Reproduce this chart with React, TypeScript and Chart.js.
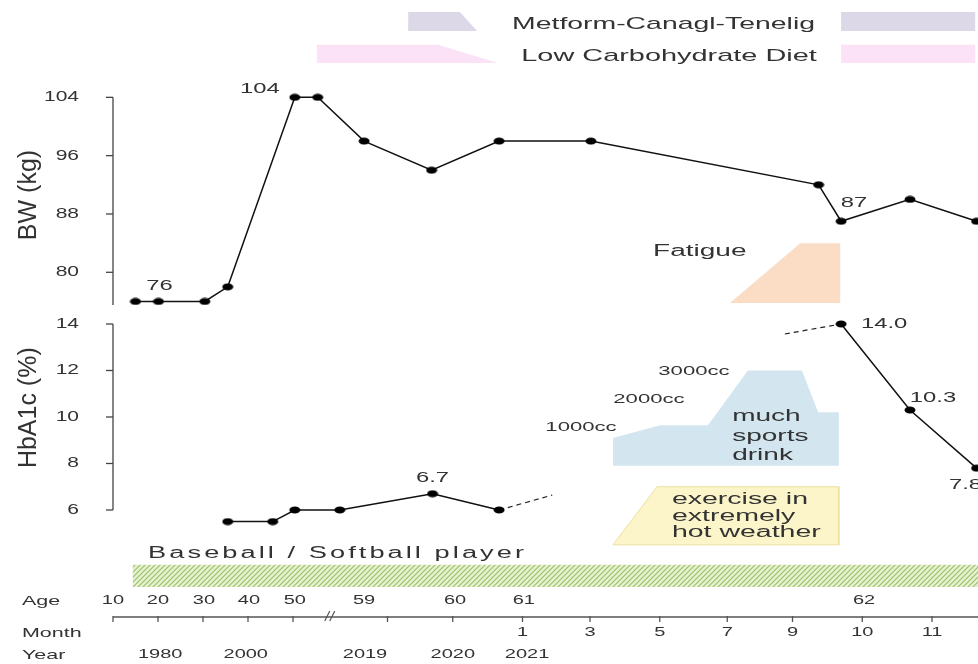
import React, { useEffect, useRef } from 'react';
import { Chart, registerables } from 'chart.js';

Chart.register(...registerables);

// Timeline position (schematic axis): 0 = age 10, +10 per age decade in the first segment
const bwX = [5.0, 10.1, 20.4, 25.5, 40.4, 45.5, 55.8, 70.8, 85.8, 106.2, 156.8, 161.8, 177.1, 191.9];
const bwY = [76, 76, 76, 78, 104, 104, 98, 94, 98, 98, 92, 87, 90, 87];

const a1cX1 = [25.5, 35.5, 40.4, 50.4, 71.0, 85.8];
const a1cY1 = [5.5, 5.5, 6.0, 6.0, 6.7, 6.0];
const a1cX2 = [161.8, 177.1, 191.9];
const a1cY2 = [14.0, 10.3, 7.8];
const dashAX = [85.8, 97.6];
const dashAY = [6.0, 6.64];
const dashBX = [149.3, 161.8];
const dashBY = [13.57, 14.0];

// period / event bands
const metformX = [65.6, 77.1, 80.9, 65.6];
const metformY = [115.7, 115.7, 113.1, 113.1];
const metform2X = [161.8, 191.6, 191.6, 161.8];
const metform2Y = [115.7, 115.7, 113.1, 113.1];
const dietX = [45.3, 72.2, 85.6, 45.3];
const dietY = [111.2, 111.2, 108.7, 108.7];
const diet2X = [161.8, 191.6, 191.6, 161.8];
const diet2Y = [111.2, 111.2, 108.7, 108.7];
const fatigueX = [137.1, 152.7, 161.6, 161.6];
const fatigueY = [75.8, 84.0, 84.0, 75.8];
const drinkX = [111.1, 111.1, 121.6, 132.2, 141.1, 153.1, 156.7, 161.3, 161.3];
const drinkY = [7.9, 9.1, 9.65, 9.65, 12.0, 12.0, 10.2, 10.2, 7.9];
const heatX = [111.1, 120.9, 161.3, 161.3, 111.1];
const heatY = [4.5, 7.0, 7.0, 4.5, 4.5];
const ballX = [4.4, 192.3, 192.3, 4.4];
const ballY = [3.64, 3.64, 2.69, 2.69];

// axes
const bwTicks = [80, 88, 96, 104];
const bwAxisMin = 75.5;
const a1cTicks = [6, 8, 10, 12, 14];
const axisTicks = [0, 10, 20, 30, 40, 61, 75.5, 91, 106, 121.5, 136.5, 151, 166.5, 182];
const axisBreak = 48.4;
const ageLabels = ['10', '20', '30', '40', '50', '59', '60', '61', '62'];
const agePos = [0, 10, 20.2, 30.2, 40.4, 55.8, 76, 91.3, 166.9];
const monthLabels = ['1', '3', '5', '7', '9', '10', '11'];
const monthPos = [91, 106, 121.5, 136.5, 151, 166.5, 182];
const yearLabels = ['1980', '2000', '2019', '2020', '2021'];
const yearPos = [10.5, 29.5, 56, 75.5, 92];

const FONT = '"Liberation Sans", Arial, Helvetica, sans-serif';
const TXT = '#333333';

const pts = (xs: number[], ys: number[]) => xs.map((x, i) => ({ x, y: ys[i] }));

function makeDot() {
  const c = document.createElement('canvas');
  c.width = 12;
  c.height = 8;
  const g = c.getContext('2d')!;
  g.fillStyle = '#000';
  g.beginPath();
  g.ellipse(6, 4, 5.5, 3.5, 0, 0, Math.PI * 2);
  g.fill();
  return c;
}

function makeHatch(ctx: CanvasRenderingContext2D) {
  const c = document.createElement('canvas');
  c.width = 5;
  c.height = 5;
  const g = c.getContext('2d')!;
  g.fillStyle = '#e6f2cf';
  g.fillRect(0, 0, 5, 5);
  g.strokeStyle = '#98c066';
  g.lineWidth = 1.1;
  g.beginPath();
  g.moveTo(-1, 6); g.lineTo(6, -1);
  g.moveTo(-1, 1); g.lineTo(1, -1);
  g.moveTo(4, 6); g.lineTo(6, 4);
  g.stroke();
  return ctx.createPattern(c, 'repeat')!;
}

function txt(ctx: CanvasRenderingContext2D, s: string, x: number, y: number, size: number, align: CanvasTextAlign, sx: number, spacing = 0) {
  ctx.save();
  ctx.translate(x, y);
  ctx.scale(sx, 1);
  ctx.font = `${size}px ${FONT}`;
  ctx.textAlign = align;
  ctx.textBaseline = 'middle';
  ctx.fillStyle = TXT;
  if (spacing) (ctx as any).letterSpacing = spacing + 'px';
  ctx.fillText(s, 0, 0);
  ctx.restore();
}

function seg(ctx: CanvasRenderingContext2D, x1: number, y1: number, x2: number, y2: number) {
  ctx.beginPath();
  ctx.moveTo(x1, y1);
  ctx.lineTo(x2, y2);
  ctx.stroke();
}

const annot = {
  id: 'annot',
  afterDatasetsDraw(chart: any) {
    const ctx: CanvasRenderingContext2D = chart.ctx;
    const xs = chart.scales.x, yb = chart.scales.yBW, ya = chart.scales.yA1c;
    const X = (v: number) => xs.getPixelForValue(v);
    const B = (v: number) => yb.getPixelForValue(v);
    const A = (v: number) => ya.getPixelForValue(v);
    const ax = X(0);
    ctx.save();
    ctx.strokeStyle = '#444';
    ctx.lineWidth = 1.3;
    // BW axis
    seg(ctx, ax, B(bwTicks[bwTicks.length - 1]), ax, B(bwAxisMin));
    bwTicks.forEach((t) => {
      const y = B(t);
      seg(ctx, ax - 7, y, ax, y);
      txt(ctx, String(t), ax - 34, y, 14, 'right', 1.5);
    });
    // HbA1c axis
    seg(ctx, ax, A(a1cTicks[a1cTicks.length - 1]), ax, A(a1cTicks[0]));
    a1cTicks.forEach((t) => {
      const y = A(t);
      seg(ctx, ax - 7, y, ax, y);
      txt(ctx, String(t), ax - 34, y, 14, 'right', 1.5);
    });
    // axis titles
    ctx.save();
    ctx.translate(29, B(90.6));
    ctx.rotate(-Math.PI / 2);
    ctx.font = `25px ${FONT}`;
    ctx.fillStyle = TXT;
    ctx.textAlign = 'center';
    ctx.textBaseline = 'middle';
    ctx.fillText('BW (kg)', 0, 0);
    ctx.restore();
    ctx.save();
    ctx.translate(29, A(10.4));
    ctx.rotate(-Math.PI / 2);
    ctx.font = `25px ${FONT}`;
    ctx.fillStyle = TXT;
    ctx.textAlign = 'center';
    ctx.textBaseline = 'middle';
    ctx.fillText('HbA1c (%)', 0, 0);
    ctx.restore();

    // value labels
    txt(ctx, '76', X(bwX[1]) + 1, B(bwY[1]) - 15, 14, 'center', 1.7);
    txt(ctx, '104', X(bwX[4]) - 35, B(bwY[4]) - 8, 14, 'center', 1.7);
    txt(ctx, '87', X(bwX[11]) + 13, B(bwY[11]) - 18, 14, 'center', 1.7);
    txt(ctx, '6.7', X(a1cX1[4]), A(a1cY1[4]) - 16, 14, 'center', 1.7);
    txt(ctx, '14.0', X(a1cX2[0]) + 43, A(a1cY2[0]), 14, 'center', 1.7);
    txt(ctx, '10.3', X(a1cX2[1]) + 23, A(a1cY2[1]) - 12, 14, 'center', 1.7);
    txt(ctx, '7.8', X(a1cX2[2]) - 11, A(a1cY2[2]) + 17, 14, 'center', 1.7);

    // legend texts
    txt(ctx, 'Metform-Canagl-Tenelig', X(156), B(114.06), 17, 'right', 1.67);
    txt(ctx, 'Low Carbohydrate Diet', X(156.4), B(109.67), 17, 'right', 1.7);

    // annotations
    txt(ctx, 'Fatigue', X(130.4), B(82.8), 16, 'center', 1.75);
    txt(ctx, '1000cc', X(104), A(9.57), 13, 'center', 1.7);
    txt(ctx, '2000cc', X(119.1), A(10.77), 13, 'center', 1.7);
    txt(ctx, '3000cc', X(129.1), A(11.94), 13, 'center', 1.7);
    ['much', 'sports', 'drink'].forEach((s, i) => txt(ctx, s, X(137.6), A([10.0, 9.14, 8.32][i]), 16, 'left', 1.75));
    ['exercise in', 'extremely', 'hot weather'].forEach((s, i) => txt(ctx, s, X(124.2), A([6.43, 5.7, 5.01][i]), 16, 'left', 1.78));
    txt(ctx, 'Baseball / Softball player', X(7.8), A(4.11), 16, 'left', 1.7, 1.8);

    // bottom timeline axis
    const ly = 617;
    ctx.strokeStyle = '#555';
    ctx.lineWidth = 1.3;
    seg(ctx, X(0), ly, xs.right, ly);
    axisTicks.forEach((t) => seg(ctx, X(t), ly - 1, X(t), ly + 5));
    const bx = X(axisBreak);
    ctx.lineWidth = 1.2;
    seg(ctx, bx - 6, ly + 4, bx - 1, ly - 6);
    seg(ctx, bx - 1, ly + 4, bx + 4, ly - 6);
    txt(ctx, 'Age', 22, 601, 13, 'left', 1.65);
    txt(ctx, 'Month', 22, 633, 13, 'left', 1.65);
    txt(ctx, 'Year', 22, 655, 13, 'left', 1.65);
    ageLabels.forEach((s, i) => txt(ctx, s, X(agePos[i]), 601, 12.5, 'center', 1.6));
    monthLabels.forEach((s, i) => txt(ctx, s, X(monthPos[i]), 633, 12.5, 'center', 1.6));
    yearLabels.forEach((s, i) => txt(ctx, s, X(yearPos[i]), 655, 12.5, 'center', 1.6));
    ctx.restore();
  },
};

export default function App() {
  const ref = useRef<HTMLCanvasElement>(null);
  useEffect(() => {
    const canvas = ref.current!;
    const dot = makeDot();
    const hatch = makeHatch(canvas.getContext('2d')!);
    const shape = (data: any[], color: any, yAxisID: string, border = 0, borderColor = 'transparent') => ({
      data,
      yAxisID,
      fill: 'shape',
      backgroundColor: color,
      borderColor,
      borderWidth: border,
      pointRadius: 0,
      tension: 0,
      order: 2,
      clip: false,
    });
    const lineDs = (data: any[], yAxisID: string, dashed = false) => ({
      data,
      yAxisID,
      fill: false,
      borderColor: dashed ? '#222' : '#111',
      borderWidth: dashed ? 1.2 : 1.5,
      borderDash: dashed ? [5, 4] : [],
      pointRadius: dashed ? 0 : 5,
      pointStyle: dashed ? 'circle' : dot,
      tension: 0,
      order: 0,
      clip: false,
    });
    const chart = new Chart(canvas, {
      type: 'line',
      data: {
        datasets: [
          lineDs(pts(bwX, bwY), 'yBW'),
          lineDs(pts(a1cX1, a1cY1), 'yA1c'),
          lineDs(pts(a1cX2, a1cY2), 'yA1c'),
          lineDs(pts(dashAX, dashAY), 'yA1c', true),
          lineDs(pts(dashBX, dashBY), 'yA1c', true),
          shape(pts(metformX, metformY), '#dcd8e7', 'yBW'),
          shape(pts(metform2X, metform2Y), '#dcd8e7', 'yBW'),
          shape(pts(dietX, dietY), '#fbe2f7', 'yBW'),
          shape(pts(diet2X, diet2Y), '#fbe2f7', 'yBW'),
          shape(pts(fatigueX, fatigueY), '#fbdcc4', 'yBW'),
          shape(pts(drinkX, drinkY), '#d3e6ef', 'yA1c'),
          shape(pts(heatX, heatY), '#fbf5c9', 'yA1c', 1, '#ece0a0'),
          shape(pts(ballX, ballY), hatch, 'yA1c'),
        ] as any,
      },
      options: {
        responsive: false,
        animation: false,
        events: [],
        layout: { padding: 0, autoPadding: false },
        plugins: { legend: { display: false }, tooltip: { enabled: false }, title: { display: false } },
        scales: {
          x: { type: 'linear', display: false, min: -25.11, max: 192.22 },
          yBW: { type: 'linear', display: false, position: 'left', min: 26.27, max: 117.35 },
          yA1c: { type: 'linear', display: false, position: 'left', min: -0.624, max: 27.935 },
        },
      } as any,
      plugins: [annot],
    });
    return () => chart.destroy();
  }, []);
  return (
    <div style={{ position: 'fixed', left: 0, top: 0, width: 978, height: 664, background: '#fff', overflow: 'hidden' }}>
      <canvas ref={ref} width={978} height={664} style={{ display: 'block', width: 978, height: 664 }} />
    </div>
  );
}
